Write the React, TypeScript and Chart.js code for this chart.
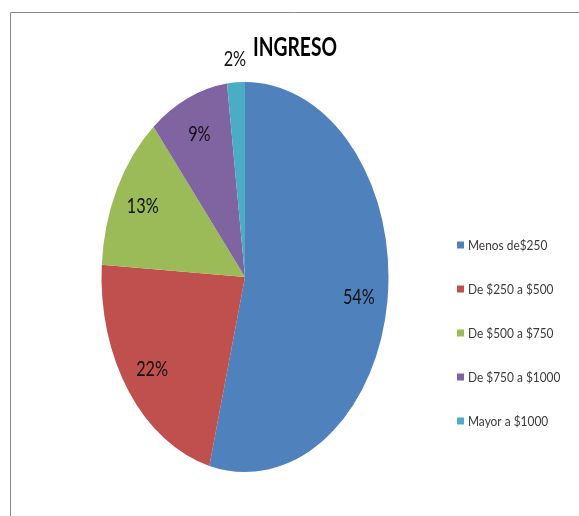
import React, { useEffect, useRef } from "react";
import { Chart, registerables } from "chart.js";

Chart.register(...registerables);

const titleText = "INGRESO";
const categories = [
  "Menos de$250",
  "De $250 a $500",
  "De $500 a $750",
  "De $750 a $1000",
  "Mayor a $1000",
];
const percentages = [54, 22, 13, 9, 2];
const colors = ["#4F81BD", "#C0504D", "#9BBB59", "#8064A2", "#4BACC6"];

const Y_STRETCH = 1.359;
const FONT = "Lato, 'Liberation Sans', Arial, sans-serif";

function drawScaledText(
  ctx: CanvasRenderingContext2D,
  text: string,
  x: number,
  y: number,
  font: string,
  color: string,
  sx: number,
  align: CanvasTextAlign
) {
  ctx.save();
  ctx.translate(x, y);
  ctx.scale(sx, 1);
  ctx.font = font;
  ctx.fillStyle = color;
  ctx.textAlign = align;
  ctx.textBaseline = "middle";
  ctx.fillText(text, 0, 0);
  ctx.restore();
}

const framePlugin = {
  id: "frame",
  beforeDraw(chart: any) {
    const ctx = chart.ctx as CanvasRenderingContext2D;
    ctx.save();
    ctx.fillStyle = "#ffffff";
    ctx.fillRect(0, 0, chart.width, chart.height);
    ctx.strokeStyle = "#8a8a8a";
    ctx.lineWidth = 1;
    ctx.beginPath();
    ctx.moveTo(10.5, chart.height);
    ctx.lineTo(10.5, 12.5);
    ctx.lineTo(chart.width, 12.5);
    ctx.stroke();
    ctx.restore();
  },
};

const ellipsePlugin = {
  id: "ellipse",
  beforeDatasetsDraw(chart: any) {
    const meta = chart.getDatasetMeta(0);
    const arc = meta.data[0];
    if (!arc) return;
    const ctx = chart.ctx as CanvasRenderingContext2D;
    ctx.save();
    ctx.translate(arc.x, arc.y);
    ctx.scale(1, Y_STRETCH);
    ctx.translate(-arc.x, -arc.y);
  },
  afterDatasetsDraw(chart: any) {
    chart.ctx.restore();
  },
};

const annotationsPlugin = {
  id: "annotations",
  afterDraw(chart: any) {
    const ctx = chart.ctx as CanvasRenderingContext2D;
    // title
    drawScaledText(ctx, titleText, 295, 47.5, `bold 26px ${FONT}`, "#000000", 0.74, "center");
    // percentage labels
    const meta = chart.getDatasetMeta(0);
    const values: number[] = chart.data.datasets[0].data;
    const total = values.reduce((a: number, b: number) => a + b, 0);
    meta.data.forEach((arc: any, i: number) => {
      const mid = (arc.startAngle + arc.endAngle) / 2;
      const share = values[i] / total;
      const f = share < 0.05 ? 1.12 : 0.8;
      const px = arc.x + Math.cos(mid) * arc.outerRadius * f;
      const py = arc.y + Math.sin(mid) * arc.outerRadius * f * Y_STRETCH;
      drawScaledText(ctx, `${values[i]}%`, px, py, `22px ${FONT}`, "#111111", 0.74, "center");
    });
    // legend
    const labels: string[] = chart.data.labels;
    labels.forEach((lab: string, i: number) => {
      const cy = 245 + i * 44;
      ctx.save();
      ctx.fillStyle = colors[i];
      ctx.fillRect(457, cy - 3.5, 7, 7);
      ctx.restore();
      drawScaledText(ctx, lab, 468, cy, `14px ${FONT}`, "#3a3a3a", 0.85, "left");
    });
  },
};

export default function App() {
  const canvasRef = useRef<HTMLCanvasElement | null>(null);

  useEffect(() => {
    if (!canvasRef.current) return;
    const chart = new Chart(canvasRef.current, {
      type: "pie",
      data: {
        labels: categories,
        datasets: [
          {
            data: percentages,
            backgroundColor: colors,
            borderWidth: 0,
            radius: 143.5,
            clip: false as any,
          } as any,
        ],
      },
      options: {
        responsive: false,
        maintainAspectRatio: false,
        animation: false,
        layout: { padding: { left: 45, right: 134, top: 77, bottom: 39 } },
        plugins: {
          legend: { display: false },
          title: { display: false },
          tooltip: { enabled: false },
        },
      },
      plugins: [framePlugin, ellipsePlugin, annotationsPlugin],
    });
    return () => chart.destroy();
  }, []);

  return (
    <div style={{ position: "absolute", left: 0, top: 0, width: 579, height: 516 }}>
      <canvas ref={canvasRef} width={579} height={516} style={{ width: 579, height: 516 }} />
    </div>
  );
}
